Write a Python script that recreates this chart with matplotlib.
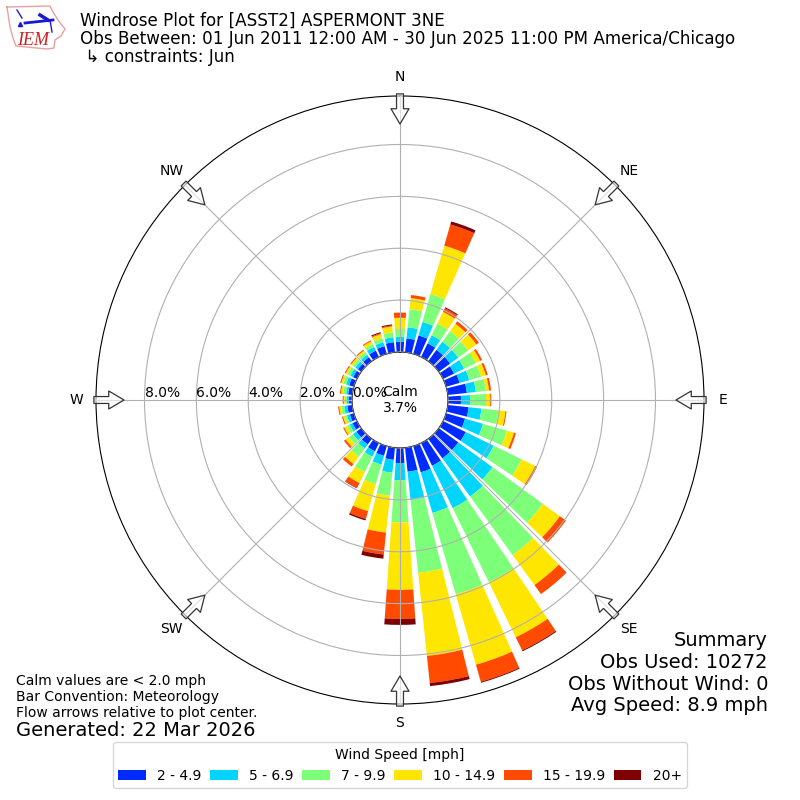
import numpy as np
import matplotlib
matplotlib.use("Agg")
import matplotlib.pyplot as plt

directions = np.arange(10, 370, 10)

# percent of obs per direction, 10 deg .. 360 deg
speed_2_5 = [.54, .74, .58, .54, .54, .47, .54, .74, .50, .81, .76, .97, .93, .93, .97, 1.05, .93, .58,
             .47, .39, .35, .27, .23, .19, .16, .19, .12, .16, .19, .16, .16, .19, .27, .31, .39, .39]
speed_5_7 = [.43, .54, .35, .39, .39, .43, .39, .35, .35, .50, .72, 1.20, 1.63, 1.82, 1.82, 1.63, 1.09, .66,
             .50, .35, .23, .19, .16, .12, .12, .12, .08, .08, .12, .12, .12, .12, .16, .16, .19, .19]
speed_7_10 = [.70, 1.12, .50, .50, .47, .50, .47, .39, .62, .66, .96, 1.20, 2.40, 2.79, 3.18, 3.26, 2.83, 1.63,
              .89, .78, .66, .39, .19, .12, .08, .12, .08, .12, .12, .12, .12, .12, .12, .16, .19, .31]
speed_10_15 = [.43, 1.94, .50, .35, .39, .19, .19, .12, .16, .27, .28, .58, .81, 1.43, 2.36, 2.83, 3.22, 2.60,
               1.43, 1.09, .47, .35, .16, .12, .08, .08, .04, .08, .08, .08, .08, .08, .12, .16, .23, .43]
speed_15_20 = [.12, .85, .16, .12, .12, .08, .08, .08, .04, .04, .08, .08, .29, .43, .56, .68, 1.05, 1.12,
               .85, .31, .21, .12, .08, .04, .04, .04, .04, .04, .04, .04, .04, .04, .04, .04, .04, .20]
speed_20 = [0, .12, .04, 0, 0, 0, 0, 0, 0, 0, 0, 0, 0, 0, .04, .04, .12, .23,
            .16, .06, .02, 0, 0, 0, 0, 0, 0, 0, 0, 0, 0, 0, 0, .04, .04, 0]

series = [speed_2_5, speed_5_7, speed_7_10, speed_10_15, speed_15_20, speed_20]
labels = ["2 - 4.9", "5 - 6.9", "7 - 9.9", "10 - 14.9", "15 - 19.9", "20+"]
colors = ["#002bff", "#00d5ff", "#7dff7a", "#ffe600", "#ff4a00", "#7f0000"]

compass = ["N", "NE", "E", "SE", "S", "SW", "W", "NW"]
compass_deg = [0, 45, 90, 135, 180, 225, 270, 315]
rticks = [0, 2, 4, 6, 8]

fig = plt.figure(figsize=(8, 8), dpi=100)

# logo, drawn in pixel coords
logo = fig.add_axes([0, 0, 1, 1])
logo.set_xlim(0, 800)
logo.set_ylim(800, 0)
logo.axis("off")
iowa_x = [7, 50, 53, 58, 65, 61, 55, 54, 47, 16, 13, 10, 7]
iowa_y = [7, 6, 12, 20, 29, 36, 40, 48, 49, 46, 38, 27, 7]
logo.plot(iowa_x, iowa_y, color="#e8a0a0", lw=1)
logo.plot([25, 53], [23, 20], color="#1a1ad0", lw=2)
logo.plot([40, 48], [15, 20], color="#1a1ad0", lw=2.5)
logo.plot([17, 22], [10, 18], color="#1a1ad0", lw=1)
logo.plot([50, 52], [20, 32], color="#1a1ad0", lw=1)
logo.plot([20], [24], marker="^", color="#1a1ad0", ms=3)
logo.text(17, 45, "IEM", color="#d02020", family="Liberation Serif", style="italic", fontsize=13)

ax = fig.add_axes([0.12, 0.12, 0.76, 0.76], projection="polar")
ax.set_theta_zero_location("N")
ax.set_theta_direction(-1)

theta = np.deg2rad(directions)
bottom = np.zeros(len(directions))
for vals, lab, col in zip(series, labels, colors):
    ax.bar(theta, vals, width=np.deg2rad(8), bottom=bottom, color=col, label=lab, linewidth=0)
    bottom += np.array(vals)

ax.set_rorigin(-1.85)
ax.set_rlim(0, 9.87)
ax.set_axisbelow(False)
ax.grid(True, color="#b0b0b0", lw=0.8)
ax.set_yticks(rticks)
ax.set_yticklabels(["%.1f%%" % r for r in rticks], fontsize=10)
ax.set_rlabel_position(270)
ax.set_xticks(np.deg2rad(compass_deg))
ax.set_xticklabels(compass, fontsize=10)
ax.tick_params(axis="x", pad=3.5)
for lab in ax.get_yticklabels():
    lab.set_ha("left")
    lab.set_va("bottom")

# flow arrows
for deg in compass_deg:
    ax.annotate("", xy=(np.deg2rad(deg), 8.79), xytext=(np.deg2rad(deg), 9.95), annotation_clip=False,
                arrowprops=dict(facecolor=(1, 1, 1, 0.6), edgecolor="#333333", width=5, headwidth=13,
                                headlength=11, shrink=0, linewidth=0.9))

ax.text(0.5, 0.5, "Calm\n3.7%", transform=ax.transAxes, ha="center", va="center", fontsize=10)

fig.text(0.1, 0.985, "Windrose Plot for [ASST2] ASPERMONT 3NE\n"
         "Obs Between: 01 Jun 2011 12:00 AM - 30 Jun 2025 11:00 PM America/Chicago\n"
         " ↳ constraints: Jun", ha="left", va="top", fontsize=12.05, linespacing=1.0)

fig.text(0.96, 0.106, "Summary\nObs Used: 10272\nObs Without Wind: 0\nAvg Speed: 8.9 mph",
         ha="right", va="bottom", fontsize=14, linespacing=1.18)
fig.text(0.02, 0.0998, "Calm values are < 2.0 mph\nBar Convention: Meteorology\nFlow arrows relative to plot center.",
         ha="left", va="bottom", fontsize=10)
fig.text(0.02, 0.0875, "Generated: 22 Mar 2026", ha="left", va="center", fontsize=14)

handles, leg_labels = ax.get_legend_handles_labels()
fig.legend(handles, leg_labels, title="Wind Speed [mph]", loc="lower center", ncol=6,
           bbox_to_anchor=(0.5, 0.006), fontsize=10, title_fontsize=10, columnspacing=0.62)

fig.savefig("out.png", dpi=100)
